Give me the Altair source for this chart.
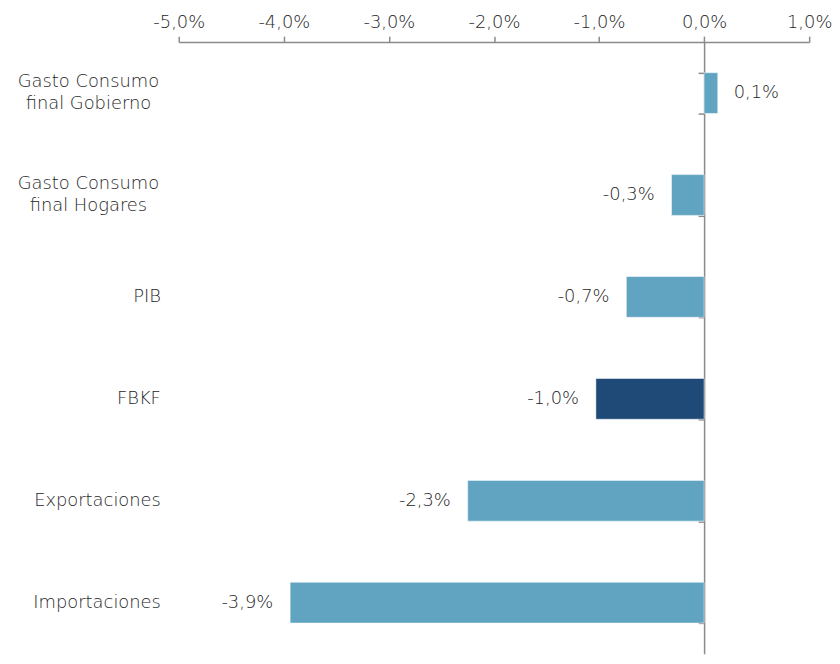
import altair as alt
import pandas as pd

categories = [
    "Gasto Consumo|final Gobierno",
    "Gasto Consumo|final Hogares",
    "PIB",
    "FBKF",
    "Exportaciones",
    "Importaciones",
]
values = [0.13, -0.31, -0.74, -1.03, -2.25, -3.94]
labels = ["0,1%", "-0,3%", "-0,7%", "-1,0%", "-2,3%", "-3,9%"]
colors = ["#61A4C1", "#61A4C1", "#61A4C1", "#1F4A77", "#61A4C1", "#61A4C1"]

df = pd.DataFrame({"cat": categories, "value": values, "label": labels, "color": colors})

FONT = "DejaVu Sans"
FW = 200
FS = 18
TXT = "#262626"
AX = "#8a8a8a"

yscale = alt.Scale(domain=categories, paddingInner=0.6, paddingOuter=0.3)
xscale = alt.Scale(domain=[-5, 1], nice=False, zero=False)

x_enc = alt.X(
    "value:Q",
    scale=xscale,
    axis=alt.Axis(
        orient="top",
        values=[-5, -4, -3, -2, -1, 0, 1],
        labelExpr="replace(replace(format(datum.value, '.1f'), '.', ','), '\u2212', '-') + '%'",
        labelFlush=False,
        grid=False,
        domainColor=AX,
        domainWidth=1.5,
        tickColor=AX,
        tickWidth=1.5,
        tickSize=6,
        labelPadding=5,
        labelFont=FONT,
        labelFontWeight=FW,
        labelFontSize=FS,
        labelColor=TXT,
        title=None,
        minExtent=32,
        maxExtent=32,
    ),
)

bars = alt.Chart(df).mark_bar(stroke="#ffffff", strokeWidth=0.5).encode(
    y=alt.Y(
        "cat:N",
        sort=categories,
        scale=yscale,
        axis=alt.Axis(
            orient="left",
            ticks=False,
            domain=False,
            labels=False,
            title=None,
            minExtent=172,
            maxExtent=172,
        ),
    ),
    x=x_enc,
    color=alt.Color("color:N", scale=None),
)

zero_axis = alt.Chart(df).mark_bar(opacity=0).encode(
    y=alt.Y(
        "cat:N",
        sort=categories,
        scale=yscale,
        axis=alt.Axis(
            orient="left",
            offset=alt.ExprRef("-width*5/6"),
            labels=False,
            ticks=True,
            tickBand="extent",
            tickSize=6,
            tickColor=AX,
            tickWidth=1.5,
            domain=True,
            domainColor=AX,
            domainWidth=1.5,
            title=None,
            minExtent=0,
            maxExtent=0,
        ),
    ),
    x=alt.X("value:Q", scale=xscale),
)

single_lbl = alt.Chart(df).transform_filter("indexof(datum.cat, '|') < 0").mark_text(
    align="right", baseline="middle", font=FONT, fontWeight=FW, fontSize=FS, color=TXT
).encode(
    y=alt.Y("cat:N", sort=categories, scale=yscale, axis=None),
    x=alt.value(-18),
    text="cat:N",
)

multi_lbl = alt.Chart(df).transform_filter("indexof(datum.cat, '|') >= 0").mark_text(
    align="center", baseline="middle", lineBreak="|", lineHeight=22, dy=-11,
    font=FONT, fontWeight=FW, fontSize=FS, color=TXT
).encode(
    y=alt.Y("cat:N", sort=categories, scale=yscale, axis=None),
    x=alt.value(-91),
    text="cat:N",
)

pos_text = alt.Chart(df).transform_filter("datum.value >= 0").mark_text(
    align="left", baseline="middle", dx=16, font=FONT, fontWeight=FW, fontSize=FS, color=TXT
).encode(
    y=alt.Y("cat:N", sort=categories, scale=yscale, axis=None),
    x=alt.X("value:Q", scale=xscale),
    text="label:N",
)

neg_text = alt.Chart(df).transform_filter("datum.value < 0").mark_text(
    align="right", baseline="middle", dx=-17, font=FONT, fontWeight=FW, fontSize=FS, color=TXT
).encode(
    y=alt.Y("cat:N", sort=categories, scale=yscale, axis=None),
    x=alt.X("value:Q", scale=xscale),
    text="label:N",
)

chart = (
    alt.layer(bars, zero_axis, single_lbl, multi_lbl, pos_text, neg_text)
    .resolve_axis(y="independent")
    .properties(
        width=830,
        height=648,
        padding=0,
        autosize=alt.AutoSizeParams(type="fit", contains="padding"),
    )
    .configure_view(stroke=None)
)

chart.save("out.html", embed_options={"renderer": "svg", "actions": False})
